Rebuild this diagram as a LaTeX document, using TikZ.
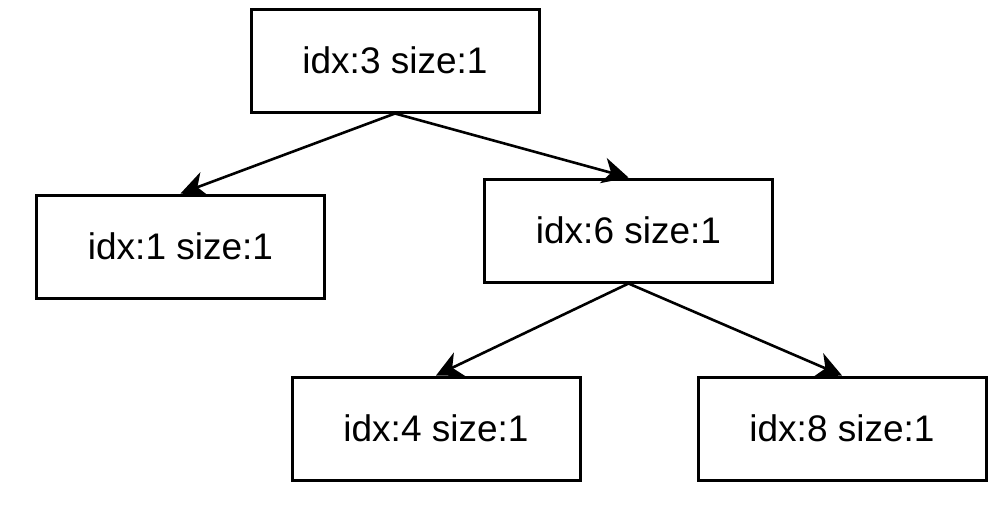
\documentclass[tikz,border=0pt]{standalone}
\usepackage{fontspec}
\setmainfont{Liberation Sans}
\usetikzlibrary{arrows.meta}

\begin{document}
\begin{tikzpicture}[x=1pt,y=-1pt,
		box/.style={draw,line width=3pt,minimum width=288pt,minimum height=103pt,font=\fontsize{37}{44}\selectfont},
		edge/.style={line width=2.6pt,-{Stealth[length=26pt,width=26pt,inset=8pt]}}]
		\useasboundingbox (0,0) rectangle (1004,507);
		\node[box] (n3) at (395,60.5) {idx:3 size:1};
		\node[box] (n1) at (180.5,246.5) {idx:1 size:1};
		\node[box] (n6) at (628.5,230.5) {idx:6 size:1};
		\node[box] (n4) at (436,428.5) {idx:4 size:1};
		\node[box] (n8) at (842,428.5) {idx:8 size:1};
		\draw[edge](n3.south)--(n1.north);
		\draw[edge](n3.south)--(n6.north);
		\draw[edge](n6.south)--(n4.north);
		\draw[edge](n6.south)--(n8.north);
	\end{tikzpicture}
\end{document}
